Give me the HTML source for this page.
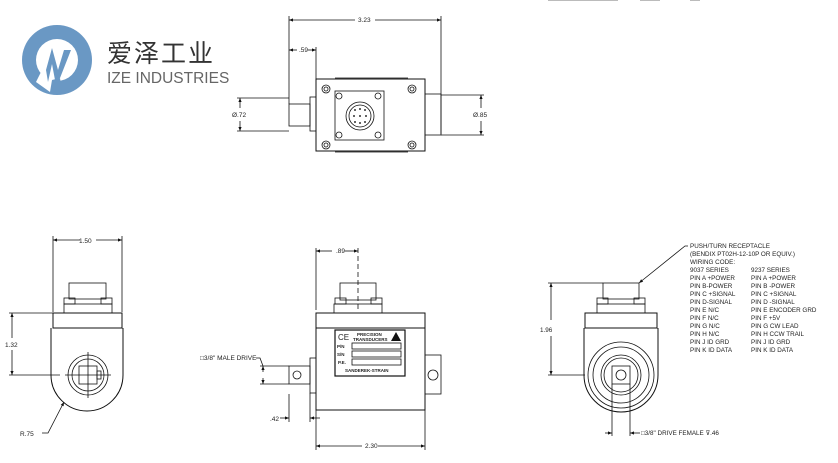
<!DOCTYPE html>
<html><head><meta charset="utf-8"><style>
html,body{margin:0;padding:0;background:#fff;}
svg{display:block;}
text{font-family:"Liberation Sans",sans-serif;fill:#222;}
</style></head><body>
<svg width="838" height="463" viewBox="0 0 838 463" xmlns="http://www.w3.org/2000/svg">
<defs>
<marker id="a" viewBox="0 0 10 10" refX="10" refY="5" markerWidth="6" markerHeight="5" orient="auto-start-reverse"><path d="M0,1L10,5L0,9z" fill="#111"/></marker>
</defs>
<!-- logo -->
<circle cx="57" cy="60" r="35" fill="#6a98c4"/>
<circle cx="57" cy="60" r="21" fill="#fff"/>
<path d="M36,82 L44,66 L52,80 L50,92 Z" fill="#fff"/>
<path d="M46,70 L52,48 L58,70 L64,50 L71,50 L60,78 L55,80 L52,64 L48,82 Z" fill="#6a98c4"/>
<path d="M55,92 L52,80 L60,78 L62,93 Z" fill="#6a98c4"/>
<text x="107" y="62" font-size="25" style="font-family:'Liberation Sans','Noto Sans CJK SC',sans-serif;fill:#333" letter-spacing="2">爱泽工业</text>
<text x="107" y="83" font-size="15.5" style="fill:#666">IZE INDUSTRIES</text>

<g stroke="#111" fill="none" stroke-width="0.8">
<!-- top view -->
<line x1="289" y1="16" x2="289" y2="104"/><line x1="441" y1="16" x2="441" y2="134"/>
<line x1="289" y1="20" x2="355" y2="20" marker-start="url(#a)"/><line x1="375" y1="20" x2="441" y2="20" marker-end="url(#a)"/>
<line x1="316" y1="47" x2="316" y2="79"/>
<line x1="289" y1="50" x2="297" y2="50" marker-start="url(#a)"/><line x1="308" y1="50" x2="316" y2="50" marker-end="url(#a)"/>
<rect x="316" y="79" width="109" height="72" stroke-width="1"/>
<line x1="335" y1="78" x2="408" y2="78"/><line x1="335" y1="152" x2="408" y2="152"/>
<rect x="310" y="97" width="6" height="34"/>
<rect x="289" y="104" width="21" height="22"/>
<rect x="425" y="94" width="16" height="41"/>
<line x1="237" y1="98" x2="289" y2="98"/><line x1="237" y1="131" x2="289" y2="131"/>
<line x1="240" y1="98" x2="240" y2="108" marker-start="url(#a)"/><line x1="240" y1="121" x2="240" y2="131" marker-end="url(#a)"/>
<line x1="441" y1="95" x2="484" y2="95"/><line x1="441" y1="135" x2="484" y2="135"/>
<line x1="481" y1="95" x2="481" y2="108" marker-start="url(#a)"/><line x1="481" y1="121" x2="481" y2="135" marker-end="url(#a)"/>
<rect x="335" y="91" width="49" height="49"/>
<circle cx="326" cy="89" r="4"/><circle cx="326" cy="89" r="2"/>
<circle cx="412" cy="89" r="4"/><circle cx="412" cy="89" r="2"/>
<circle cx="326" cy="145" r="4"/><circle cx="326" cy="145" r="2"/>
<circle cx="412" cy="145" r="4"/><circle cx="412" cy="145" r="2"/>
<circle cx="339" cy="96" r="3"/><circle cx="378" cy="96" r="3"/><circle cx="339" cy="135" r="3"/><circle cx="378" cy="135" r="3"/>
<circle cx="360" cy="116" r="14"/><circle cx="360" cy="116" r="11"/>
</g>
<g fill="#333"><circle cx="355" cy="110" r="1"/><circle cx="360" cy="109" r="1"/><circle cx="365" cy="110" r="1"/><circle cx="354" cy="116" r="1"/><circle cx="360" cy="116" r="1"/><circle cx="366" cy="116" r="1"/><circle cx="355" cy="122" r="1"/><circle cx="360" cy="123" r="1"/><circle cx="365" cy="122" r="1"/></g>
<g font-size="6.5">
<text x="358" y="22">3.23</text><text x="299" y="52">.59</text>
<text x="232" y="117">Ø.72</text><text x="473" y="117">Ø.85</text>
</g>

<!-- bottom left -->
<g stroke="#111" fill="none" stroke-width="0.8">
<line x1="53" y1="236" x2="53" y2="312"/><line x1="122" y1="236" x2="122" y2="312"/>
<line x1="53" y1="240" x2="80" y2="240" marker-start="url(#a)"/><line x1="96" y1="240" x2="122" y2="240" marker-end="url(#a)"/>
<rect x="69" y="283" width="37" height="16"/>
<rect x="64" y="298" width="11" height="6"/><rect x="101" y="298" width="11" height="6"/>
<rect x="64" y="304" width="48" height="9"/>
<rect x="53" y="313" width="69" height="15" stroke-width="1"/>
<path d="M51,328 L51,375 A36,36 0 0 0 123,375 L123,328" stroke-width="1"/>
<line x1="9" y1="313" x2="53" y2="313"/><line x1="9" y1="375" x2="60" y2="375"/>
<line x1="12" y1="313" x2="12" y2="338" marker-start="url(#a)"/><line x1="12" y1="350" x2="12" y2="375" marker-end="url(#a)"/>
<circle cx="88" cy="375" r="20"/><circle cx="88" cy="375" r="16"/>
<rect x="79" y="366" width="18" height="18"/>
<rect x="97" y="371" width="4" height="8"/>
<line x1="88" y1="352" x2="88" y2="398"/><line x1="65" y1="375" x2="111" y2="375"/>
<polyline points="42,433 48,433 64,402" marker-end="url(#a)"/>
</g>
<g font-size="6.5"><text x="79" y="243">1.50</text><text x="5" y="347">1.32</text><text x="20" y="436">R.75</text></g>

<!-- bottom middle -->
<g stroke="#111" fill="none" stroke-width="0.8">
<line x1="316" y1="248" x2="316" y2="310"/><line x1="358" y1="248" x2="358" y2="310" stroke-dasharray="5,3"/>
<line x1="316" y1="251" x2="332" y2="251" marker-start="url(#a)"/><line x1="345" y1="251" x2="358" y2="251" marker-end="url(#a)"/>
<rect x="340" y="283" width="36" height="17"/>
<rect x="335" y="298" width="11" height="6"/><rect x="371" y="298" width="11" height="6"/>
<rect x="334" y="304" width="48" height="9"/>
<rect x="316" y="313" width="109" height="15" stroke-width="1"/>
<rect x="316" y="328" width="109" height="82" stroke-width="1"/>
<rect x="335" y="330" width="70" height="46" stroke-width="1.2"/>
<rect x="352" y="343" width="49" height="6"/><rect x="352" y="351" width="49" height="6"/><rect x="352" y="359" width="49" height="6"/>
<rect x="425" y="355" width="16" height="39"/><circle cx="433" cy="375" r="5"/>
<rect x="310" y="358" width="6" height="35"/>
<rect x="289" y="366" width="21" height="18"/><circle cx="297" cy="375" r="4"/>
<line x1="260" y1="366" x2="289" y2="366"/><line x1="260" y1="384" x2="289" y2="384"/>
<line x1="263" y1="366" x2="263" y2="372" marker-start="url(#a)"/><line x1="263" y1="378" x2="263" y2="384" marker-end="url(#a)"/>
<polyline points="256,358 260,358 263,366"/>
<line x1="289" y1="394" x2="289" y2="422"/><line x1="310" y1="393" x2="310" y2="422"/>
<line x1="280" y1="418" x2="289" y2="418" marker-end="url(#a)"/><line x1="320" y1="418" x2="310" y2="418" marker-end="url(#a)"/>
<line x1="316" y1="410" x2="316" y2="450"/><line x1="425" y1="410" x2="425" y2="450"/>
<line x1="316" y1="446" x2="362" y2="446" marker-start="url(#a)"/><line x1="378" y1="446" x2="425" y2="446" marker-end="url(#a)"/>
</g>
<g fill="#111" font-size="4.5" font-weight="bold">
<text x="338" y="340" font-size="8" font-weight="normal">CE</text>
<text x="357" y="336">PRECISION</text><text x="353" y="341">TRANSDUCERS</text>
<path d="M396,332 L401,341 L391,341 Z"/>
<text x="337" y="348">P/N</text><text x="337" y="356">S/N</text><text x="338" y="364">P.E.</text>
<text x="345" y="372">SANDEREK-STRAIN</text>
</g>
<g font-size="6.5"><text x="336" y="253">.89</text><text x="200" y="360">□3/8" MALE DRIVE</text><text x="270" y="421">.42</text><text x="365" y="448">2.30</text></g>

<!-- bottom right -->
<g stroke="#111" fill="none" stroke-width="0.8">
<rect x="603" y="283" width="36" height="16"/>
<rect x="597" y="298" width="11" height="6"/><rect x="634" y="298" width="11" height="6"/>
<rect x="597" y="304" width="48" height="9"/>
<rect x="585" y="313" width="72" height="15" stroke-width="1"/>
<path d="M584,328 L584,375 A37,37 0 0 0 658,375 L658,328" stroke-width="1"/>
<circle cx="621" cy="375" r="33"/><circle cx="621" cy="375" r="28"/><circle cx="621" cy="375" r="20"/><circle cx="621" cy="375" r="17"/>
<rect x="612" y="366" width="18" height="18"/><circle cx="621" cy="375" r="5"/>
<line x1="548" y1="283" x2="603" y2="283"/><line x1="548" y1="375" x2="585" y2="375"/>
<line x1="551" y1="283" x2="551" y2="320" marker-start="url(#a)"/><line x1="551" y1="336" x2="551" y2="375" marker-end="url(#a)"/>
<line x1="612" y1="384" x2="612" y2="436"/><line x1="630" y1="384" x2="630" y2="436"/>
<line x1="605" y1="433" x2="612" y2="433" marker-end="url(#a)"/><line x1="637" y1="433" x2="630" y2="433" marker-end="url(#a)"/>
<line x1="637" y1="433" x2="640" y2="433"/>
<polyline points="688,246 685,246 639,283" marker-end="url(#a)"/>
</g>
<g font-size="6.3">
<text x="540" y="332">1.96</text>
<text x="641" y="435">□3/8" DRIVE FEMALE ⊽.46</text>
<text x="690" y="248">PUSH/TURN RECEPTACLE</text>
<text x="690" y="256">(BENDIX PT02H-12-10P OR EQUIV.)</text>
<text x="690" y="264">WIRING CODE:</text>
<text x="690" y="272">9037 SERIES</text><text x="751" y="272">9237 SERIES</text>
<text x="690" y="280">PIN A +POWER</text><text x="751" y="280">PIN A +POWER</text>
<text x="690" y="288">PIN B-POWER</text><text x="751" y="288">PIN B -POWER</text>
<text x="690" y="296">PIN C +SIGNAL</text><text x="751" y="296">PIN C +SIGNAL</text>
<text x="690" y="304">PIN D-SIGNAL</text><text x="751" y="304">PIN D -SIGNAL</text>
<text x="690" y="312">PIN E N/C</text><text x="751" y="312">PIN E ENCODER GRD</text>
<text x="690" y="320">PIN F N/C</text><text x="751" y="320">PIN F +5V</text>
<text x="690" y="328">PIN G N/C</text><text x="751" y="328">PIN G CW LEAD</text>
<text x="690" y="336">PIN H N/C</text><text x="751" y="336">PIN H CCW TRAIL</text>
<text x="690" y="344">PIN J ID GRD</text><text x="751" y="344">PIN J ID GRD</text>
<text x="690" y="352">PIN K ID DATA</text><text x="751" y="352">PIN K ID DATA</text>
</g>
<rect x="548" y="0" width="70" height="1" fill="#bbb"/><rect x="640" y="0" width="20" height="1" fill="#bbb"/><rect x="690" y="0" width="10" height="1" fill="#bbb"/>
</svg>
</body></html>
